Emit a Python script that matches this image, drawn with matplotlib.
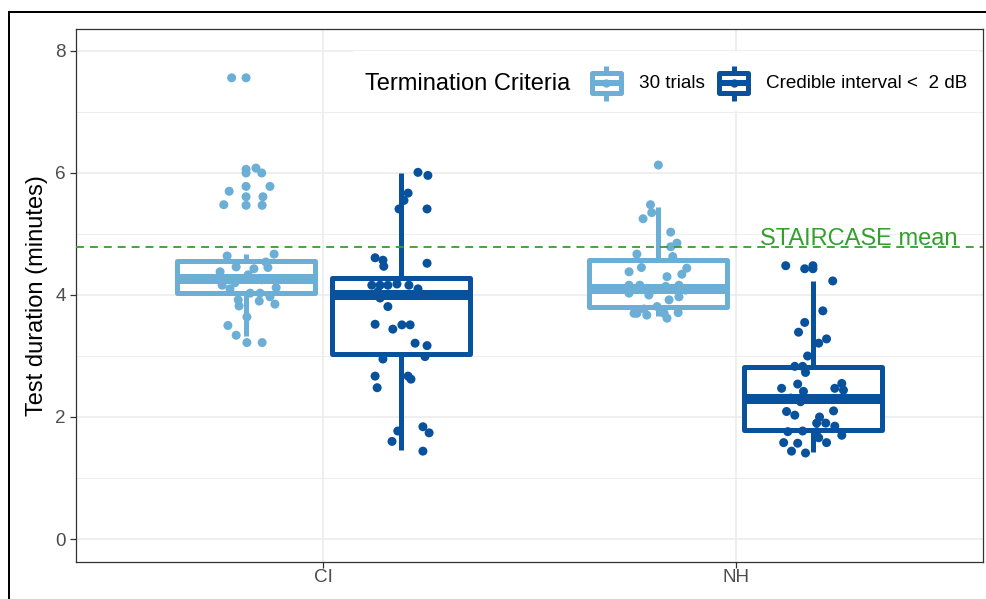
import matplotlib
matplotlib.use('Agg')
import matplotlib.pyplot as plt
from matplotlib.patches import Rectangle
from matplotlib.lines import Line2D

plt.rcParams['font.family'] = ['Liberation Sans', 'DejaVu Sans']

# ---------------- data ----------------
categories = ['CI', 'NH']
criteria = ['30 trials', 'Credible interval <  2 dB']
colors = ['#6BAED6', '#08519C']
legend_title = 'Termination Criteria'
y_label = 'Test duration (minutes)'
y_ticks = [0, 2, 4, 6, 8]
staircase_mean = 4.79
staircase_label = 'STAIRCASE mean'

# box statistics, indexed [category][criterion]
box_whislo = [[3.32, 1.46], [3.65, 1.42]]
box_q1 = [[4.04, 3.03], [3.80, 1.78]]
box_med = [[4.27, 4.00], [4.10, 2.30]]
box_q3 = [[4.56, 4.28], [4.57, 2.82]]
box_whishi = [[4.67, 6.00], [5.45, 4.23]]

# jittered observations (value, horizontal jitter offset)
ci_trials_y = [7.56, 7.56, 6.06, 6.08, 6.00, 6.00, 5.78, 5.78, 5.70, 5.61, 5.61,
               5.48, 5.47, 5.47, 4.64, 4.67, 4.54, 4.43, 4.46, 4.38, 4.28, 4.16,
               4.03, 4.03, 3.97, 3.92, 3.90, 3.85, 3.82, 3.64, 3.50, 3.34, 3.22,
               3.22, 4.20, 4.25, 4.12, 4.33, 4.10, 4.45]
ci_trials_dx = [-0.035, 0.000, 0.000, 0.024, 0.038, 0.000, 0.000, 0.058, -0.041,
                0.000, 0.041, -0.054, 0.000, 0.039, -0.046, 0.068, 0.048, 0.019,
                -0.024, -0.063, -0.068, -0.058, 0.010, 0.034, 0.058, -0.019, 0.032,
                0.070, -0.017, 0.002, -0.044, -0.024, 0.002, 0.039, -0.027, 0.039,
                0.073, 0.005, -0.039, 0.053]

ci_cred_y = [6.01, 5.96, 5.67, 5.55, 5.41, 5.41, 4.61, 4.57, 4.47, 4.52, 4.16,
             4.16, 4.16, 4.18, 4.16, 4.10, 3.95, 3.81, 3.52, 3.44, 3.51, 3.51,
             3.21, 3.17, 2.95, 2.99, 2.67, 2.67, 2.62, 2.48, 1.77, 1.84, 1.74,
             1.60, 1.44, 4.05, 4.00]
ci_cred_dx = [0.042, 0.066, 0.018, 0.008, -0.004, 0.064, -0.062, -0.043, -0.041,
              0.064, -0.070, -0.050, -0.031, -0.009, 0.020, 0.042, -0.050, -0.031,
              -0.062, -0.019, 0.003, 0.023, 0.035, 0.064, -0.043, 0.059, -0.062,
              0.018, 0.025, -0.057, -0.007, 0.054, 0.069, -0.021, 0.054, -0.055,
              -0.013]

nh_trials_y = [6.13, 5.48, 5.35, 5.25, 5.03, 4.85, 4.79, 4.67, 4.63, 4.45, 4.38,
               4.44, 4.34, 4.30, 4.16, 4.16, 4.03, 4.00, 4.14, 4.16, 3.97, 3.70,
               3.77, 3.67, 3.81, 3.70, 3.62, 3.71, 3.92, 3.70, 4.08, 4.10]
nh_trials_dx = [0.000, -0.019, -0.016, -0.037, 0.030, 0.045, 0.030, -0.052, 0.035,
                -0.041, -0.071, 0.069, 0.057, 0.021, -0.071, -0.045, -0.071, -0.023,
                0.018, 0.050, 0.050, -0.059, -0.035, -0.028, -0.003, 0.014, 0.021,
                0.048, 0.026, -0.052, 0.066, 0.044]

nh_cred_y = [4.48, 4.43, 4.48, 4.43, 4.23, 3.74, 3.55, 3.39, 3.21, 3.28, 3.00,
             2.83, 2.83, 2.73, 2.47, 2.54, 2.42, 2.55, 2.47, 2.44, 2.31, 2.25,
             2.09, 2.03, 2.10, 2.00, 1.90, 1.90, 1.85, 1.76, 1.77, 1.76, 1.70,
             1.66, 1.58, 1.58, 1.57, 1.44, 1.41]
nh_cred_dx = [-0.066, -0.020, 0.000, 0.000, 0.048, 0.024, -0.020, -0.035, 0.014,
              0.033, -0.013, -0.044, -0.025, -0.018, -0.076, -0.037, -0.023, 0.070,
              0.053, 0.074, -0.054, -0.030, -0.064, -0.044, 0.050, 0.016, 0.009,
              0.031, 0.053, -0.061, -0.025, 0.009, 0.070, 0.014, 0.033, -0.071,
              -0.037, -0.052, -0.018]

points_y = [[ci_trials_y, ci_cred_y], [nh_trials_y, nh_cred_y]]
points_dx = [[ci_trials_dx, ci_cred_dx], [nh_trials_dx, nh_cred_dx]]

# ---------------- figure ----------------
W, H = 987, 599
fig = plt.figure(figsize=(W / 100, H / 100), dpi=100)
fig.patch.set_facecolor('white')

px_left, px_right, px_top, px_bottom = 76, 983, 29, 562
ax = fig.add_axes([px_left / W, (H - px_bottom) / H,
                   (px_right - px_left) / W, (px_bottom - px_top) / H])
ax.set_xlim(0.4, 2.6)
ax.set_ylim(-0.377, 8.36)

# grid
ax.set_axisbelow(True)
ax.set_yticks(y_ticks)
ax.set_yticks([1, 3, 5, 7], minor=True)
ax.set_xticks([1, 2])
ax.set_xticklabels(categories)
ax.grid(which='major', color='#EBEBEB', linewidth=1.1)
ax.grid(which='minor', axis='y', color='#EBEBEB', linewidth=0.6)
ax.tick_params(which='minor', length=0)
ax.tick_params(axis='both', which='major', length=4, width=0.9, color='#333333',
               labelsize=13.6, labelcolor='#4D4D4D')
ax.tick_params(axis='y', pad=3.5)
ax.tick_params(axis='x', pad=1.2)
for sp in ax.spines.values():
    sp.set_color('#333333')
    sp.set_linewidth(0.9)

dodge = 0.1875
box_w = 0.335
lw_box = 3.6
lw_med = 7.2

for ci, cat in enumerate(categories):
    for k in range(2):
        pos = ci + 1 + (dodge if k == 1 else -dodge)
        stats = [dict(med=box_med[ci][k], q1=box_q1[ci][k], q3=box_q3[ci][k],
                      whislo=box_whislo[ci][k], whishi=box_whishi[ci][k],
                      fliers=[])]
        col = colors[k]
        ax.bxp(stats, positions=[pos], widths=[box_w], patch_artist=True,
               showcaps=False, showfliers=False,
               boxprops=dict(facecolor='white', edgecolor=col, linewidth=lw_box,
                             joinstyle='round'),
               medianprops=dict(color=col, linewidth=lw_med, solid_capstyle='butt'),
               whiskerprops=dict(color=col, linewidth=lw_box, solid_capstyle='butt'),
               manage_ticks=False, zorder=2)
        xs = [pos + d for d in points_dx[ci][k]]
        ax.scatter(xs, points_y[ci][k], s=42, color=col, edgecolors='none', zorder=3)

# staircase mean
ax.axhline(staircase_mean, color='#33A02C', linewidth=1.3, dashes=(4.4, 3.3), zorder=4)
ax.text(2.059, staircase_mean + 0.03, staircase_label, color='#33A02C', fontsize=17,
        ha='left', va='baseline', zorder=5)

# y label
fig.text(37 / W, 1 - 295.5 / H, y_label, rotation=90, ha='center', va='center',
         fontsize=17, color='black')

# ---------------- overlay: legend & frame ----------------
ov = fig.add_axes([0, 0, 1, 1])
ov.set_xlim(0, W)
ov.set_ylim(H, 0)
ov.axis('off')
ov.patch.set_visible(False)

ov.add_patch(Rectangle((353, 50.5), 979 - 353, 60.5, facecolor='white',
                       edgecolor='none', zorder=1))
ov.text(365, 83.5, legend_title, fontsize=17, ha='left', va='center', color='black',
        zorder=3)
key_cx = [606, 733.7]
label_x = [639, 766]
px2pt = 0.72
for k in range(2):
    cx = key_cx[k]
    col = colors[k]
    ov.add_patch(Rectangle((cx - 14.5, 72.5), 29, 20, facecolor='white', edgecolor=col,
                           linewidth=5 * px2pt, joinstyle='round', zorder=2))
    ov.add_line(Line2D([cx - 14.5, cx + 14.5], [82.5, 82.5], color=col,
                       linewidth=6 * px2pt, solid_capstyle='butt', zorder=3))
    ov.add_line(Line2D([cx, cx], [65.5, 72.5], color=col, linewidth=5 * px2pt,
                       solid_capstyle='butt', zorder=3))
    ov.add_line(Line2D([cx, cx], [92.5, 100.5], color=col, linewidth=5 * px2pt,
                       solid_capstyle='butt', zorder=3))
    ov.plot([cx], [82.5], marker='o', markersize=6, color=col, markeredgewidth=0,
            zorder=4)
    ov.text(label_x[k], 83.5, criteria[k], fontsize=13.6, ha='left', va='center',
            color='black', zorder=3)

# outer black frame (top and left)
ov.add_line(Line2D([7.5, W], [11.5, 11.5], color='black', linewidth=2 * px2pt,
                   solid_capstyle='butt'))
ov.add_line(Line2D([8.5, 8.5], [10.5, H], color='black', linewidth=2 * px2pt,
                   solid_capstyle='butt'))

fig.savefig('out.png', dpi=100, facecolor='white')
